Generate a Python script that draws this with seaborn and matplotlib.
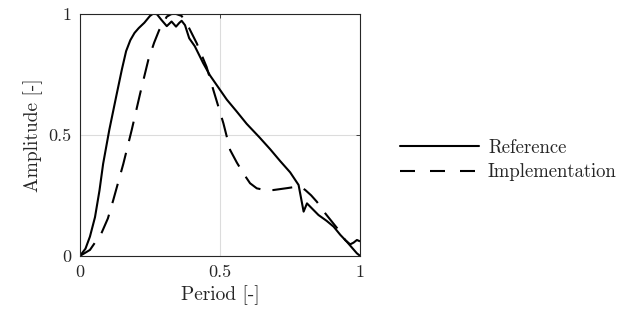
import matplotlib
matplotlib.use("Agg")
import matplotlib.pyplot as plt
import seaborn as sns
import pandas as pd

ref_period = [0.0, 0.02, 0.036, 0.054, 0.07, 0.083, 0.105, 0.13, 0.15, 0.165, 0.18,
              0.195, 0.21, 0.23, 0.25, 0.262, 0.275, 0.29, 0.31, 0.327, 0.343, 0.355,
              0.363, 0.375, 0.39, 0.41, 0.44, 0.464, 0.5, 0.524, 0.56, 0.595, 0.64,
              0.679, 0.714, 0.75, 0.78, 0.798, 0.81, 0.833, 0.851, 0.88, 0.905,
              0.929, 0.952, 0.97, 0.988, 1.0]
ref_amp = [0.0, 0.03, 0.08, 0.16, 0.27, 0.38, 0.52, 0.66, 0.77, 0.845, 0.89,
           0.92, 0.94, 0.962, 0.99, 1.0, 0.997, 0.975, 0.948, 0.967, 0.946, 0.962,
           0.97, 0.952, 0.898, 0.865, 0.795, 0.745, 0.685, 0.645, 0.595, 0.545, 0.49,
           0.44, 0.392, 0.345, 0.293, 0.183, 0.217, 0.19, 0.169, 0.145, 0.121,
           0.087, 0.059, 0.035, 0.011, 0.0]

impl_period = [0.0, 0.036, 0.077, 0.1, 0.119, 0.137, 0.155, 0.185, 0.215, 0.244, 0.265,
               0.283, 0.31, 0.325, 0.339, 0.363, 0.387, 0.417, 0.452, 0.476, 0.512,
               0.536, 0.56, 0.583, 0.607, 0.631, 0.66, 0.69, 0.74, 0.774, 0.79,
               0.804, 0.825, 0.845, 0.875, 0.9, 0.923, 0.946, 0.964, 0.976, 0.988, 1.0]
impl_amp = [0.0, 0.025, 0.094, 0.155, 0.23, 0.305, 0.38, 0.52, 0.67, 0.808, 0.88,
            0.932, 0.987, 0.997, 1.0, 0.99, 0.946, 0.877, 0.78, 0.685, 0.547,
            0.437, 0.385, 0.341, 0.30, 0.279, 0.272, 0.272, 0.28, 0.286, 0.283,
            0.272, 0.25, 0.224, 0.176, 0.14, 0.107, 0.066, 0.048, 0.055, 0.066, 0.06]

series_names = ["Reference", "Implementation"]

df = pd.concat([
    pd.DataFrame({"Period": ref_period, "Amplitude": ref_amp, "series": series_names[0]}),
    pd.DataFrame({"Period": impl_period, "Amplitude": impl_amp, "series": series_names[1]}),
], ignore_index=True)

sns.set_style("white")
plt.rcParams["font.family"] = ["cmr10", "DejaVu Serif"]
plt.rcParams["axes.formatter.use_mathtext"] = True
plt.rcParams["mathtext.fontset"] = "cm"

fig = plt.figure(figsize=(6.19, 3.22), dpi=100)
ax = fig.add_axes([0.129, 0.205, 0.453, 0.753])

sns.lineplot(data=df, x="Period", y="Amplitude", style="series", color="k",
             dashes={"Reference": "", "Implementation": (9.6, 5.8)},
             estimator=None, sort=False, lw=1.5, ax=ax, legend=True)

ax.set_xlim(0, 1)
ax.set_ylim(0, 1)
ax.set_xticks([0, 0.5, 1])
ax.set_yticks([0, 0.5, 1])
ax.set_xticklabels(["0", "0.5", "1"])
ax.set_yticklabels(["0", "0.5", "1"])
ax.grid(True, color="#dcdcdc", lw=0.8)
ax.tick_params(direction="in", length=3, width=0.6, top=True, right=True,
               labelsize=13, pad=6)
for s in ax.spines.values():
    s.set_color("#262626")
    s.set_linewidth(0.8)
ax.set_xlabel("Period [-]", fontsize=14)
ax.set_ylabel("Amplitude [-]", fontsize=14)

handles, labels = ax.get_legend_handles_labels()
ax.get_legend().remove()
leg = fig.legend(handles, labels, frameon=False, loc="center left",
                 bbox_to_anchor=(0.646, 0.503), fontsize=13.5, borderpad=0,
                 borderaxespad=0, handlelength=4.2, handletextpad=0.5,
                 labelspacing=0.36)
# legend dashes are shorter than in the plot
leg.get_lines()[1].set_dashes((7.2, 7.2))

fig.savefig("out.png", dpi=100)
